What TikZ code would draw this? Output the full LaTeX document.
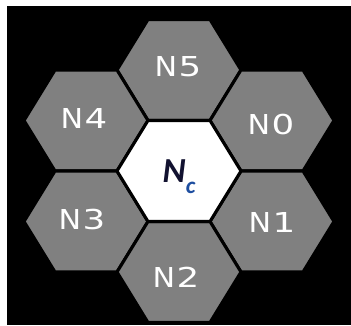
\documentclass[tikz,border=0pt]{standalone}
\usepackage{fontspec}
\setsansfont{DejaVu Sans}
\newfontfamily\centrefont{Carlito}
\definecolor{cellgray}{RGB}{128,128,128}
\definecolor{ncnavy}{RGB}{18,18,48}
\definecolor{ncblue}{RGB}{30,78,160}
\tikzset{
  cell/.style={fill=cellgray, draw=black, line width=2.2pt, line join=miter},
  centrecell/.style={fill=white, draw=black, line width=2.2pt, line join=miter},
  celllabel/.style={text=white, font=\sffamily\fontsize{19.5}{20}\selectfont, inner sep=0pt},
  centrelabel/.style={font=\centrefont\bfseries\itshape\fontsize{25}{26}\selectfont, inner sep=0pt},
}

\begin{document}
\begin{tikzpicture}[x=0.025cm, y=-0.025cm]
\useasboundingbox (0,0) rectangle (351,325);
\fill[black] (7,6) rectangle (351,325);
\draw[cell] (179,70) ++(-62,0) -- ++(31,-50.5) -- ++(62,0) -- ++(31,50.5) -- ++(-31,50.5) -- ++(-62,0) -- cycle;
\draw[cell] (86,120.5) ++(-62,0) -- ++(31,-50.5) -- ++(62,0) -- ++(31,50.5) -- ++(-31,50.5) -- ++(-62,0) -- cycle;
\draw[cell] (272,120.5) ++(-62,0) -- ++(31,-50.5) -- ++(62,0) -- ++(31,50.5) -- ++(-31,50.5) -- ++(-62,0) -- cycle;
\draw[cell] (86,221.5) ++(-62,0) -- ++(31,-50.5) -- ++(62,0) -- ++(31,50.5) -- ++(-31,50.5) -- ++(-62,0) -- cycle;
\draw[cell] (272,221.5) ++(-62,0) -- ++(31,-50.5) -- ++(62,0) -- ++(31,50.5) -- ++(-31,50.5) -- ++(-62,0) -- cycle;
\draw[cell] (179,272) ++(-62,0) -- ++(31,-50.5) -- ++(62,0) -- ++(31,50.5) -- ++(-31,50.5) -- ++(-62,0) -- cycle;
\draw[centrecell] (179,171) ++(-62,0) -- ++(31,-50.5) -- ++(62,0) -- ++(31,50.5) -- ++(-31,50.5) -- ++(-62,0) -- cycle;
\node[celllabel] (n5) at (178,67) {\scalebox{1.1}[1]{N}\kern1pt\scalebox{1.3}[1]{5}};
\node[celllabel] (n4) at (84,118) {\scalebox{1.1}[1]{N}\kern1pt\scalebox{1.3}[1]{4}};
\node[celllabel] (n0) at (271,125) {\scalebox{1.1}[1]{N}\kern1pt\scalebox{1.3}[1]{0}};
\node[celllabel] (n3) at (82,220) {\scalebox{1.1}[1]{N}\kern1pt\scalebox{1.3}[1]{3}};
\node[celllabel] (n1) at (272,223) {\scalebox{1.1}[1]{N}\kern1pt\scalebox{1.3}[1]{1}};
\node[celllabel] (n2) at (176,277) {\scalebox{1.1}[1]{N}\kern1pt\scalebox{1.3}[1]{2}};
\node[centrelabel] (nc) at (179,177) {\textcolor{ncnavy}{N}\raisebox{-8pt}{\textcolor{ncblue}{\fontsize{16.5}{17}\selectfont c}}};
\end{tikzpicture}
\end{document}
